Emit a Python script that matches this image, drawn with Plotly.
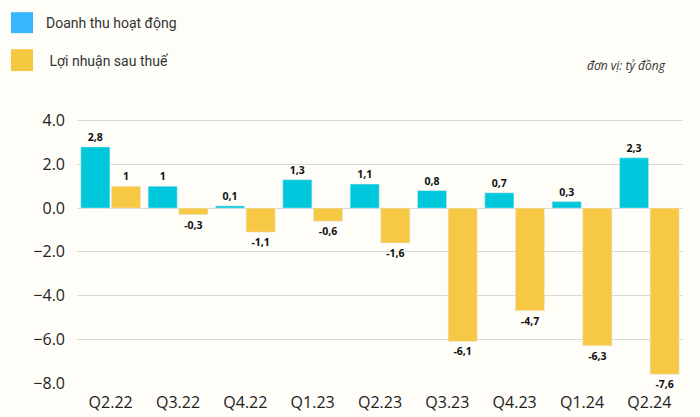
import plotly.graph_objects as go

categories = ["Q2.22", "Q3.22", "Q4.22", "Q1.23", "Q2.23", "Q3.23", "Q4.23", "Q1.24", "Q2.24"]
revenue = [2.8, 1, 0.1, 1.3, 1.1, 0.8, 0.7, 0.3, 2.3]
profit = [1, -0.3, -1.1, -0.6, -1.6, -6.1, -4.7, -6.3, -7.6]
series_names = ["Doanh thu hoạt động", " Lợi nhuận sau thuế"]
unit_label = "đơn vị: tỷ đồng"
y_ticks = [4, 2, 0, -2, -4, -6, -8]

W, H = 700, 417
L, R = 77, 683
T, B = 113, 383.5
FONT = "Open Sans"
LEG_FONT = "Roboto"

def fmt(v):
    s = ("%g" % v).replace(".", ",")
    return s

def px(x):
    return (x - L) / (R - L)

def py(y):
    return (B - y) / (B - T)

CYAN = "#00C8DC"
YELLOW = "#F7C843"
BG = "#FEFDF8"

fig = go.Figure()
fig.add_trace(go.Bar(x=categories, y=revenue, name=series_names[0], marker_color=CYAN,
                     text=[fmt(v) for v in revenue], textposition="outside",
                     textfont=dict(size=10.5, color="#111", family=FONT, weight="bold"),
                     cliponaxis=False))
fig.add_trace(go.Bar(x=categories, y=profit, name=series_names[1], marker_color=YELLOW,
                     text=[fmt(v) for v in profit], textposition="outside",
                     textfont=dict(size=10.5, color="#111", family=FONT, weight="bold"),
                     cliponaxis=False))

shapes = []
annotations = []
legend_colors = ["#38B6FF", "#F5C842"]
legend_rows = [(12, 33, 23, 44), (49, 71, 61, 44)]
for (y0, y1, yc, xt), col, name in zip(legend_rows, legend_colors, series_names):
    shapes.append(dict(type="rect", xref="paper", yref="paper", x0=px(11), x1=px(33),
                       y0=py(y1), y1=py(y0), fillcolor=col, line=dict(width=0)))
    annotations.append(dict(text=name, xref="paper", yref="paper", x=px(xt), y=py(yc),
                            xanchor="left", yanchor="middle", showarrow=False,
                            font=dict(size=14, color="#333", family=LEG_FONT)))
annotations.append(dict(text="<i>" + unit_label + "</i>", xref="paper", yref="paper",
                        x=px(668), y=py(65), xanchor="right", yanchor="middle", showarrow=False,
                        font=dict(size=12, color="#333", family=FONT)))

fig.update_layout(
    width=W, height=H,
    margin=dict(l=L, r=W - R, t=T, b=H - B, autoexpand=False),
    paper_bgcolor=BG, plot_bgcolor=BG,
    barmode="group", bargap=0.09, bargroupgap=0.05,
    showlegend=False,
    shapes=shapes, annotations=annotations,
    font=dict(family=FONT, color="#222"),
    xaxis=dict(showgrid=False, showline=False, ticks="", automargin=False,
               tickfont=dict(size=16, color="#222"), ticklabelstandoff=8),
    yaxis=dict(range=[-8, 4.35], tickvals=y_ticks, tickformat=".1f", automargin=False,
               showgrid=True, gridcolor="#D9D9D9", zeroline=True, zerolinecolor="#D9D9D9",
               zerolinewidth=1, tickfont=dict(size=16, color="#222"), ticks="", ticklabelstandoff=11),
)
fig.write_html("out.html", config={"displayModeBar": False},
               post_script="document.body.style.margin='0';document.body.style.background='%s';" % BG)
